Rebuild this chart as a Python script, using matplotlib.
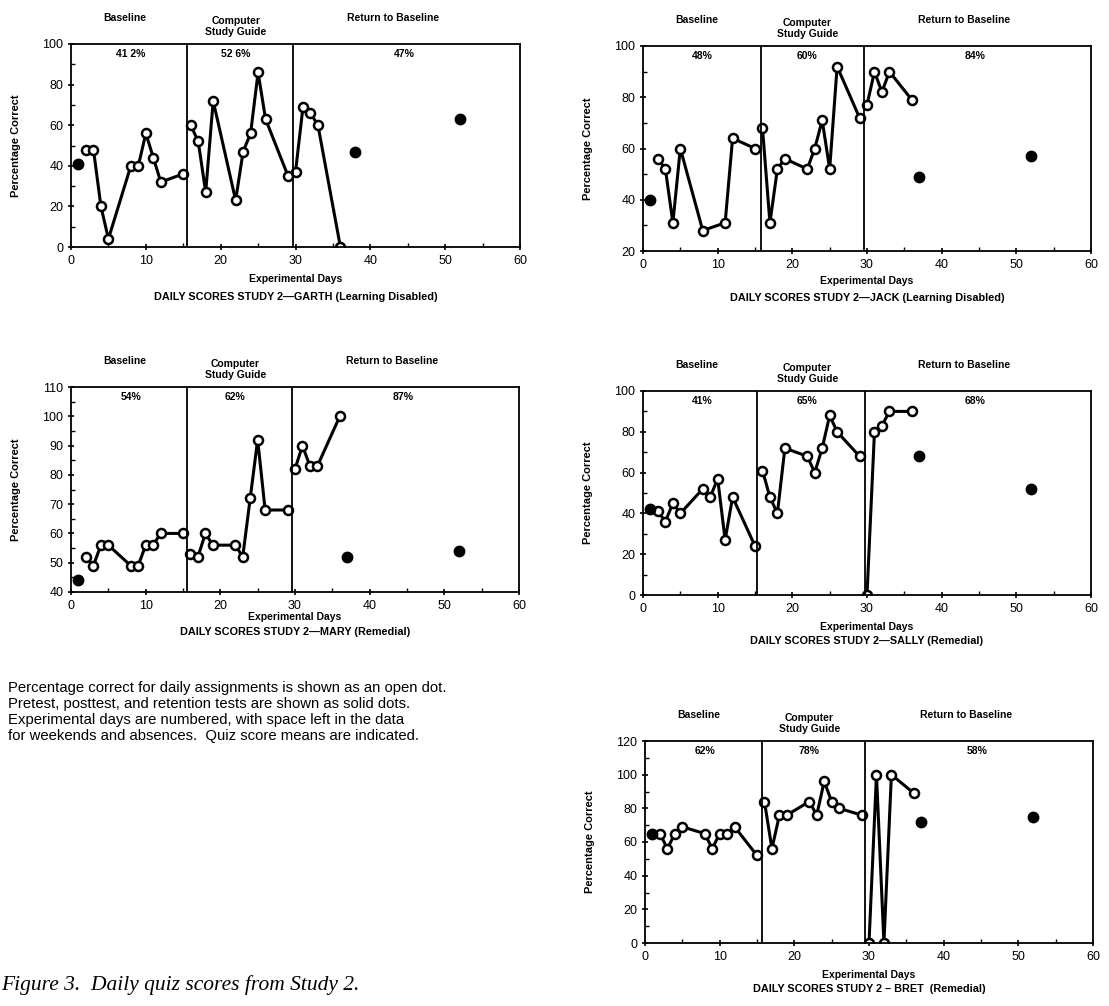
import numpy as np
import matplotlib.pyplot as plt
import matplotlib.transforms as mtransforms

plt.rcParams['font.family'] = ['Liberation Sans', 'DejaVu Sans']

W, H = 1109, 1006

students = ['GARTH', 'JACK', 'MARY', 'SALLY', 'BRET']
groups = ['(Learning Disabled)', '(Learning Disabled)', '(Remedial)', '(Remedial)', '(Remedial)']

# daily assignment scores (open dots), split by phase
base_days = {
    'GARTH': [2, 3, 4, 5, 8, 9, 10, 11, 12, 15],
    'JACK': [2, 3, 4, 5, 8, 11, 12, 15],
    'MARY': [2, 3, 4, 5, 8, 9, 10, 11, 12, 15],
    'SALLY': [2, 3, 4, 5, 8, 9, 10, 11, 12, 15],
    'BRET': [2, 3, 4, 5, 8, 9, 10, 11, 12, 15],
}
base_scores = {
    'GARTH': [48, 48, 20, 4, 40, 40, 56, 44, 32, 36],
    'JACK': [56, 52, 31, 60, 28, 31, 64, 60],
    'MARY': [52, 49, 56, 56, 49, 49, 56, 56, 60, 60],
    'SALLY': [41, 36, 45, 40, 52, 48, 57, 27, 48, 24],
    'BRET': [65, 56, 65, 69, 65, 56, 65, 65, 69, 52],
}
csg_days = [16, 17, 18, 19, 22, 23, 24, 25, 26, 29]
csg_scores = {
    'GARTH': [60, 52, 27, 72, 23, 47, 56, 86, 63, 35],
    'JACK': [68, 31, 52, 56, 52, 60, 71, 52, 92, 72],
    'MARY': [53, 52, 60, 56, 56, 52, 72, 92, 68, 68],
    'SALLY': [61, 48, 40, 72, 68, 60, 72, 88, 80, 68],
    'BRET': [84, 56, 76, 76, 84, 76, 96, 84, 80, 76],
}
ret_days = [30, 31, 32, 33, 36]
ret_scores = {
    'GARTH': [37, 69, 66, 60, 0],
    'JACK': [77, 90, 82, 90, 79],
    'MARY': [82, 90, 83, 83, 100],
    'SALLY': [0, 80, 83, 90, 90],
    'BRET': [0, 100, 0, 100, 89],
}
# pretest, posttest, retention (solid dots)
test_days = {
    'GARTH': [1, 38, 52],
    'JACK': [1, 37, 52],
    'MARY': [1, 37, 52],
    'SALLY': [1, 37, 52],
    'BRET': [1, 37, 52],
}
test_scores = {
    'GARTH': [41, 47, 63],
    'JACK': [40, 49, 57],
    'MARY': [44, 52, 54],
    'SALLY': [42, 68, 52],
    'BRET': [65, 72, 75],
}
quiz_means = {
    'GARTH': ['41 2%', '52 6%', '47%'],
    'JACK': ['48%', '60%', '84%'],
    'MARY': ['54%', '62%', '87%'],
    'SALLY': ['41%', '65%', '68%'],
    'BRET': ['62%', '78%', '58%'],
}
phase_lines = {
    'GARTH': [15.5, 29.7],
    'JACK': [15.8, 29.6],
    'MARY': [15.5, 29.6],
    'SALLY': [15.3, 29.7],
    'BRET': [15.7, 29.5],
}
y_ranges = {
    'GARTH': (0, 100, 20),
    'JACK': (20, 100, 20),
    'MARY': (40, 110, 10),
    'SALLY': (0, 100, 20),
    'BRET': (0, 120, 20),
}
phase_names = ['Baseline', 'Computer\nStudy Guide', 'Return to Baseline']
note = ('Percentage correct for daily assignments is shown as an open dot.\n'
        'Pretest, posttest, and retention tests are shown as solid dots.\n'
        'Experimental days are numbered, with space left in the data\n'
        'for weekends and absences.  Quiz score means are indicated.')

# axes boxes in pixels: left, right, top, bottom
boxes = {
    'GARTH': (71, 520, 44, 247),
    'JACK': (643, 1091, 46, 251),
    'MARY': (71, 519, 387, 592),
    'SALLY': (643, 1091, 391, 595),
    'BRET': (645, 1093, 741, 943),
}
label_offsets = {
    'GARTH': (32, 50),
    'JACK': (30, 47),
    'MARY': (25, 40),
    'SALLY': (32, 46),
    'BRET': (32, 46),
}

PX = 0.72  # points per pixel at dpi 100

fig = plt.figure(figsize=(W / 100, H / 100), dpi=100)


def plot_student(name, group):
    l, r, t, b = boxes[name]
    ax = fig.add_axes([l / W, 1 - b / H, (r - l) / W, (b - t) / H])
    line_kw = dict(color='black', lw=2.2, marker='o', ms=6.5, mfc='white', mec='black', mew=1.8)
    ax.plot(base_days[name], base_scores[name], **line_kw)
    ax.plot(csg_days, csg_scores[name], **line_kw)
    ax.plot(ret_days, ret_scores[name], **line_kw)
    ax.plot(test_days[name], test_scores[name], 'o', color='black', ms=7.5, ls='none')

    for x in phase_lines[name]:
        ax.axvline(x, color='black', lw=1.3)

    y0, y1, step = y_ranges[name]
    ax.set_xlim(0, 60)
    ax.set_ylim(y0, y1)
    ax.set_xticks(np.arange(0, 61, 10))
    ax.set_xticks(np.arange(0, 61, 5), minor=True)
    ax.set_yticks(np.arange(y0, y1 + 1, step))
    ax.set_yticks(np.arange(y0, y1 + 1, step / 2), minor=True)
    ax.tick_params(which='major', direction='inout', length=5, width=1.2, labelsize=9, pad=3)
    ax.tick_params(which='minor', direction='in', length=3, width=1)
    for sp in ax.spines.values():
        sp.set_linewidth(1.3)

    trans = mtransforms.blended_transform_factory(ax.transData, ax.transAxes)
    for xpos, txt in zip([8, 22, 44.5], quiz_means[name]):
        ax.annotate(txt, xy=(xpos, 1), xycoords=trans, xytext=(0, -10 * PX),
                    textcoords='offset points', ha='center', va='center',
                    fontsize=7.5, fontweight='bold')
    for xpos, txt in zip([7.2, 22, 43], phase_names):
        if '\n' in txt:
            ax.annotate(txt, xy=(xpos, 1), xycoords=trans, xytext=(0, 7 * PX),
                        textcoords='offset points', ha='center', va='bottom',
                        fontsize=7.5, fontweight='bold', linespacing=1.15)
        else:
            ax.annotate(txt, xy=(xpos, 1), xycoords=trans, xytext=(0, 26 * PX),
                        textcoords='offset points', ha='center', va='center',
                        fontsize=7.5, fontweight='bold')

    xl, tl = label_offsets[name]
    ax.annotate('Experimental Days', xy=(0.5, 0), xycoords='axes fraction', xytext=(0, -xl * PX),
                textcoords='offset points', ha='center', va='center', fontsize=7.5, fontweight='bold')
    sep = ' – ' if name == 'BRET' else '—'
    ax.annotate('DAILY SCORES STUDY 2' + sep + name + ('  ' if name == 'BRET' else ' ') + group,
                xy=(0.5, 0), xycoords='axes fraction', xytext=(0, -tl * PX),
                textcoords='offset points', ha='center', va='center', fontsize=7.8, fontweight='bold')
    ax.annotate('Percentage Correct', xy=(0, 0.5), xycoords='axes fraction', xytext=(-55 * PX, 0),
                textcoords='offset points', ha='center', va='center', rotation=90,
                fontsize=8, fontweight='bold')
    return ax


for name, group in zip(students, groups):
    plot_student(name, group)

fig.text(8 / W, 1 - 681 / H, note, ha='left', va='top', fontsize=10.7, linespacing=1.18)
fig.text(1 / W, 1 - 985 / H, 'Figure 3.  Daily quiz scores from Study 2.', ha='left', va='center',
         fontsize=15.5, family='Liberation Serif', style='italic')

plt.savefig('out.png', dpi=100)
